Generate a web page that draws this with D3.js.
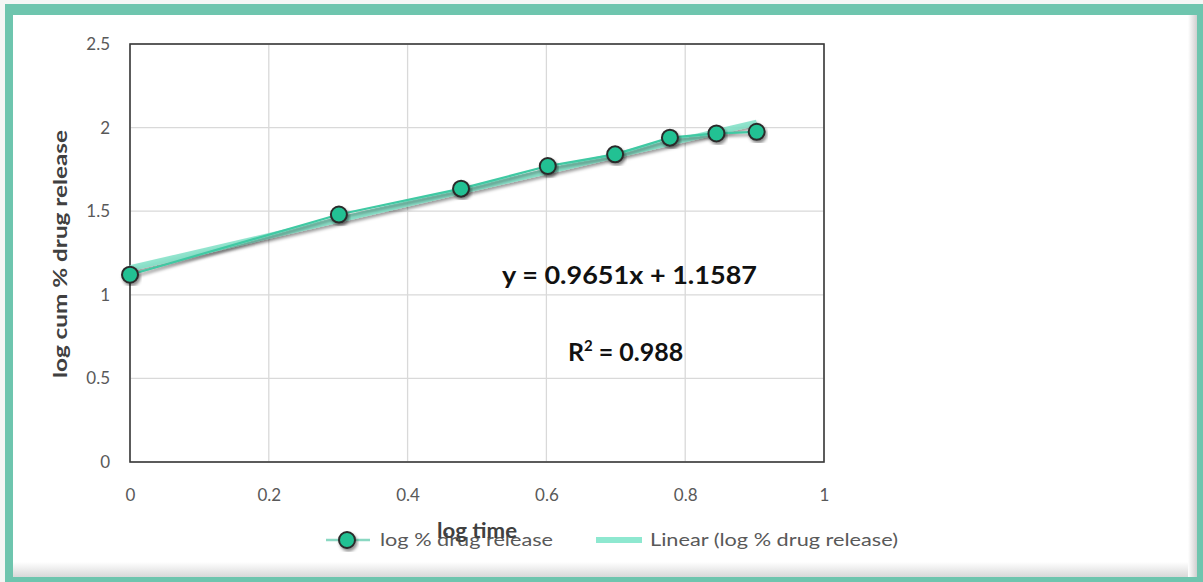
<!DOCTYPE html>
<html>
<head>
<meta charset="utf-8">
<script src="https://cdn.jsdelivr.net/npm/d3@7"></script>
<style>
  body { margin: 0; background: #fff; }
  svg { display: block; font-family: "Lato", "Open Sans", sans-serif; }
</style>
</head>
<body>
<div id="graf"></div>
<script>
// Datos
var logTime = [0, 0.301, 0.477, 0.602, 0.699, 0.778, 0.845, 0.903];
var logRelease = [1.12, 1.48, 1.635, 1.77, 1.84, 1.94, 1.965, 1.975];
var xTicks = [0, 0.2, 0.4, 0.6, 0.8, 1];
var yTicks = [0, 0.5, 1, 1.5, 2, 2.5];
var trendSlope = 0.9651;
var trendIntercept = 1.1587;
var equationText = "y = 0.9651x + 1.1587";
var seriesName = "log % drug release";
var trendName = "Linear (log % drug release)";

var ancho_total = 1203, alto_total = 582;
var margins = { top: 44, left: 130, right: 379, bottom: 120 };
var ancho = ancho_total - margins.left - margins.right;
var alto = alto_total - margins.top - margins.bottom;

var svg = d3.select("#graf").append("svg")
  .attr("width", ancho_total)
  .attr("height", alto_total);

var defs = svg.append("defs");
var sombra = defs.append("filter").attr("id", "sombra")
  .attr("x", "-20%").attr("y", "-20%").attr("width", "140%").attr("height", "140%");
sombra.append("feDropShadow")
  .attr("dx", 1.5).attr("dy", 2.5).attr("stdDeviation", 1.8)
  .attr("flood-color", "#000").attr("flood-opacity", 0.45);

var grad = defs.append("linearGradient").attr("id", "bevelB").attr("x1", 0).attr("y1", 0).attr("x2", 0).attr("y2", 1);
grad.append("stop").attr("offset", 0).attr("stop-color", "#fff");
grad.append("stop").attr("offset", 1).attr("stop-color", "#d8d8d8");
var gradR = defs.append("linearGradient").attr("id", "bevelR").attr("x1", 0).attr("y1", 0).attr("x2", 1).attr("y2", 0);
gradR.append("stop").attr("offset", 0).attr("stop-color", "#fff");
gradR.append("stop").attr("offset", 1).attr("stop-color", "#cfcfcf");

// Marco
svg.append("rect").attr("width", ancho_total).attr("height", alto_total).attr("fill", "#f4f6f5");
svg.append("rect").attr("x", 5).attr("y", 4).attr("width", ancho_total - 5).attr("height", alto_total - 4).attr("fill", "#6ec5ae");
svg.append("rect").attr("x", 13).attr("y", 15).attr("width", 1184).attr("height", 562).attr("fill", "#fff");
svg.append("rect").attr("x", 13).attr("y", 562).attr("width", 1184).attr("height", 15).attr("fill", "url(#bevelB)");
svg.append("rect").attr("x", 1188).attr("y", 15).attr("width", 9).attr("height", 562).attr("fill", "url(#bevelR)");

var g = svg.append("g").attr("transform", `translate(${margins.left}, ${margins.top})`);

// Escaladores
var x = d3.scaleLinear().domain([0, 1]).range([0, ancho]);
var y = d3.scaleLinear().domain([0, 2.5]).range([alto, 0]);

// Rejilla
g.append("g").selectAll("line").data(xTicks).join("line")
  .attr("x1", d => x(d)).attr("x2", d => x(d))
  .attr("y1", 0).attr("y2", alto)
  .attr("stroke", "#d9d9d9").attr("stroke-width", 1.3);
g.append("g").selectAll("line").data(yTicks).join("line")
  .attr("x1", 0).attr("x2", ancho)
  .attr("y1", d => y(d)).attr("y2", d => y(d))
  .attr("stroke", "#d9d9d9").attr("stroke-width", 1.3);

g.append("rect").attr("width", ancho).attr("height", alto)
  .attr("fill", "none").attr("stroke", "#3a3a3a").attr("stroke-width", 1.6);

// Ejes
var xAxis = g.append("g").attr("transform", `translate(0, ${alto})`)
  .call(d3.axisBottom(x).tickValues(xTicks).tickSize(0).tickPadding(27).tickFormat(d3.format("")));
var yAxis = g.append("g")
  .call(d3.axisLeft(y).tickValues(yTicks).tickSize(0).tickPadding(20).tickFormat(d3.format("")));
[xAxis, yAxis].forEach(a => {
  a.select(".domain").remove();
  a.selectAll("text").attr("fill", "#595959").style("font-size", "17px").style("font-family", "Lato, sans-serif");
});

// Linea de tendencia
var puntos = logTime.map((d, i) => ({ x: d, y: logRelease[i] }));
var xMax = d3.max(logTime);
var tendencia = [0, xMax].map(d => ({ x: d, y: trendSlope * d + trendIntercept }));
var lineaGen = d3.line().x(d => x(d.x)).y(d => y(d.y));

g.append("path").attr("d", lineaGen(tendencia))
  .attr("fill", "none").attr("stroke", "#7fe0c6").attr("stroke-width", 6).attr("stroke-opacity", 0.85)
  .attr("filter", "url(#sombra)");

g.append("path").attr("d", lineaGen(puntos))
  .attr("fill", "none").attr("stroke", "#3fc9a3").attr("stroke-width", 2.2)
  .attr("filter", "url(#sombra)");

g.append("g").selectAll("circle").data(puntos).join("circle")
  .attr("cx", d => x(d.x)).attr("cy", d => y(d.y)).attr("r", 8)
  .attr("fill", "#22c193").attr("stroke", "#2b2b2b").attr("stroke-width", 2)
  .attr("filter", "url(#sombra)");

// Ecuacion
svg.append("text").attr("x", 502).attr("y", 284)
  .attr("textLength", 255).attr("lengthAdjust", "spacingAndGlyphs")
  .style("font-size", "25px").style("font-weight", "bold").attr("fill", "#111")
  .text(equationText);
var r2 = svg.append("text").attr("x", 568).attr("y", 361)
  .style("font-size", "25px").style("font-weight", "bold").attr("fill", "#111");
r2.append("tspan").text("R");
r2.append("tspan").attr("dy", -10).style("font-size", "15px").text("2");
r2.append("tspan").attr("dy", 10).attr("dx", 6).text("= 0.988");

// Titulos
svg.append("text").attr("transform", "translate(67, 254) rotate(-90)")
  .attr("text-anchor", "middle").style("font-size", "18px").style("font-weight", "bold")
  .attr("textLength", 248).attr("lengthAdjust", "spacingAndGlyphs")
  .attr("fill", "#404040").text("log cum %  drug release");

// Leyenda
var ley = svg.append("g").attr("transform", "translate(0, 540)");
ley.append("line").attr("x1", 326).attr("x2", 370).attr("y1", 0).attr("y2", 0)
  .attr("stroke", "#8ad8c2").attr("stroke-width", 2.5);
ley.append("circle").attr("cx", 347).attr("cy", 0).attr("r", 8)
  .attr("fill", "#22c193").attr("stroke", "#2b2b2b").attr("stroke-width", 2).attr("filter", "url(#sombra)");
ley.append("text").attr("x", 380).attr("y", 6).style("font-size", "18px").attr("fill", "#595959")
  .attr("textLength", 173).attr("lengthAdjust", "spacingAndGlyphs").text(seriesName);
ley.append("line").attr("x1", 596).attr("x2", 642).attr("y1", 0).attr("y2", 0)
  .attr("stroke", "#8ee8d0").attr("stroke-width", 6);
ley.append("text").attr("x", 650).attr("y", 6).style("font-size", "18px").attr("fill", "#595959")
  .attr("textLength", 248).attr("lengthAdjust", "spacingAndGlyphs").text(trendName);

// titulo eje x (se solapa con la leyenda, igual que en el original)
svg.append("text").attr("x", 477).attr("y", 538).attr("text-anchor", "middle")
  .attr("textLength", 80).attr("lengthAdjust", "spacingAndGlyphs")
  .style("font-size", "20px").style("font-weight", "bold").attr("fill", "#404040").text("log time");
</script>
</body>
</html>
